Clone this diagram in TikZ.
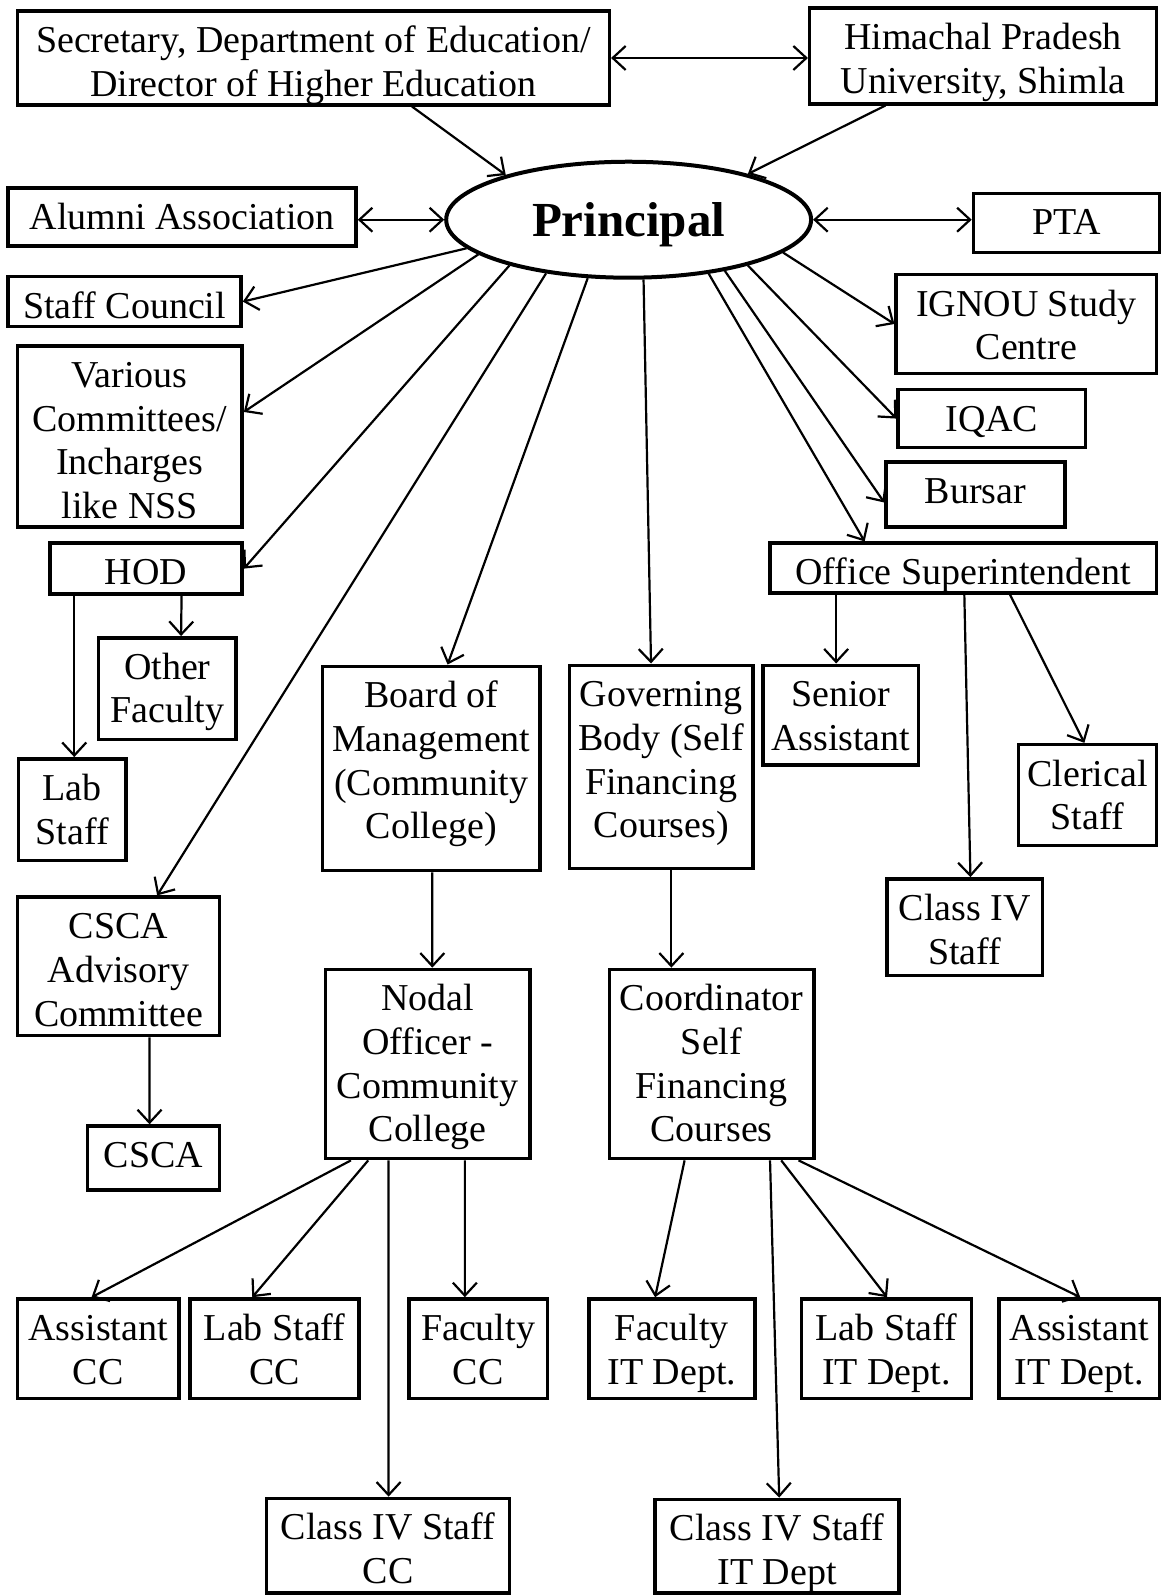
\documentclass[tikz,border=0pt]{standalone}
\usepackage{fontspec}
\setmainfont{Liberation Serif}
\usetikzlibrary{arrows.meta,shapes.geometric,calc}
\newcommand\firstline{\rule{0pt}{41.5pt}}
\newcommand\bx[6]{%
  \pgfmathsetlengthmacro\bxw{1.0175pt*(#4-#2)}%
  \pgfmathsetlengthmacro\bxh{1.0175pt*(#5-#3)}%
  \node[box, minimum width=\bxw, minimum height=\bxh] (#1) at ({(#2+#4)/2},{(#3+#5)/2})
    {\parbox[c][\bxh][t]{\bxw}{\centering\firstline#6}};}
\begin{document}
\begin{tikzpicture}[x=1.0175pt,y=-1.0175pt,
  box/.style={draw, line width=3.5pt, inner sep=0pt, font=\fontsize{38}{43.7}\selectfont},
  arr/.style={line width=2.2pt, -{Straight Barb[length=13pt,width=24pt]}},
  biarr/.style={line width=2.2pt, {Straight Barb[length=13pt,width=24pt]}-{Straight Barb[length=13pt,width=24pt]}}]
\useasboundingbox (0,0) rectangle (1141,1568);
\node[draw, ellipse, line width=4pt, inner sep=0pt, minimum width=365pt, minimum height=116pt, font=\fontsize{49}{53}\selectfont\bfseries] (p) at (618,216) {\raisebox{-4.8pt}[\height][\depth]{Principal}};
\bx{sec}{17}{11}{599}{103}{Secretary, Department of Education/\\Director of Higher Education}
\bx{hpu}{796}{8}{1137}{102}{Himachal Pradesh\\University, Shimla}
\bx{alu}{8}{185}{350}{242}{Alumni Association}
\bx{pta}{957}{190}{1140}{248}{PTA}
\bx{sc}{8}{272}{237}{321}{Staff Council}
\bx{vc}{17}{340}{238}{518}{Various\\Committees/\\Incharges\\like NSS}
\bx{hod}{49}{534}{238}{584}{HOD}
\bx{ofa}{97}{627}{232}{727}{Other\\Faculty}
\bx{lab}{18}{746}{124}{846}{Lab\\Staff}
\bx{csa}{17}{882}{216}{1018}{CSCA\\Advisory\\Committee}
\bx{csca}{86}{1107}{216}{1170}{CSCA}
\bx{bom}{317}{655}{531}{856}{Board of\\Management\\(Community\\College)}
\bx{nod}{320}{953}{521}{1139}{Nodal\\Officer -\\Community\\College}
\bx{gov}{560}{654}{740}{854}{Governing\\Body (Self\\Financing\\Courses)}
\bx{coo}{599}{953}{800}{1139}{Coordinator\\Self\\Financing\\Courses}
\bx{sen}{750}{654}{903}{752}{Senior\\Assistant}
\bx{os}{757}{534}{1137}{583}{Office Superintendent}
\bx{bur}{871}{454}{1047}{518}{Bursar}
\bx{iqac}{883}{383}{1067}{440}{IQAC}
\bx{ign}{881}{270}{1137}{367}{IGNOU Study\\Centre}
\bx{cle}{1001}{732}{1137}{831}{Clerical\\Staff}
\bx{cfour}{872}{864}{1025}{959}{Class IV\\Staff}
\bx{acc}{17}{1277}{176}{1375}{Assistant\\CC}
\bx{lcc}{187}{1277}{353}{1375}{Lab Staff\\CC}
\bx{fcc}{402}{1277}{538}{1375}{Faculty\\CC}
\bx{cfourcc}{262}{1473}{501}{1566}{Class IV Staff\\CC}
\bx{fitd}{579}{1277}{742}{1375}{Faculty\\IT Dept.}
\bx{lit}{788}{1277}{955}{1375}{Lab Staff\\IT Dept.}
\bx{ait}{982}{1277}{1140}{1375}{Assistant\\IT Dept.}
\bx{cfourit}{644}{1474}{884}{1566}{Class IV Staff\\IT Dept}
% top
\draw[biarr] (sec.east) -- (sec.east -| hpu.west);
\draw[arr] ($(sec.south)+(97,0)$) -- (p.160);
\draw[arr] ($(hpu.south)+(-96,0)$) -- (p.21);
\draw[biarr] (alu.east |- p.west) -- (p.west);
\draw[biarr] (p.east) -- (p.east -| pta.west);
% from principal
\draw[arr] (p.190) -- (sc.east);
\draw[arr] (p.193) -- ($(vc.east)+(0,-24)$);
\draw[arr] (p.201) -- (hod.east);
\draw[arr] (p.213) -- ($(csa.north)+(38,0)$);
\draw[arr] (p.235) -- ($(bom.north)+(16,0)$);
\draw[arr] (p.284) -- ($(gov.north)+(-10,0)$);
\draw[arr] (p.326) -- ($(os.north)+(-97,0)$);
\draw[arr] (p.332) -- ($(bur.west)+(0,8)$);
\draw[arr] (p.339) -- (iqac.west);
\draw[arr] (p.348) -- (ign.west);
% second level
\draw[arr] ($(hod.south)+(35,0)$) -- ($(ofa.north)+(13.5,0)$);
\draw[arr] ($(hod.south)+(-70.5,0)$) -- ($(lab.north)+(2,0)$);
\draw[arr] ($(csa.south)+(30.5,0)$) -- ($(csca.north)+(-4,0)$);
\draw[arr] ($(bom.south)+(1,0)$) -- ($(nod.north)+(4.5,0)$);
\draw[arr] ($(gov.south)+(10,0)$) -- ($(coo.north)+(-39.5,0)$);
\draw[arr] ($(os.south)+(-125,0)$) -- ($(sen.north)+(-4.5,0)$);
\draw[arr] ($(os.south)+(46,0)$) -- ($(cle.north)+(-3,0)$);
\draw[arr] ($(os.south)+(1,0)$) -- ($(cfour.north)+(5.5,0)$);
% nodal officer
\draw[arr] ($(nod.south)+(-75.5,0)$) -- ($(acc.north)+(-6.5,0)$);
\draw[arr] ($(nod.south)+(-58.5,0)$) -- ($(lcc.north)+(-22,0)$);
\draw[arr] ($(nod.south)+(-38.5,0)$) -- ($(cfourcc.north)+(0.5,0)$);
\draw[arr] ($(nod.south)+(36.5,0)$) -- ($(fcc.north)+(-13,0)$);
% coordinator
\draw[arr] ($(coo.south)+(-26.5,0)$) -- ($(fitd.north)+(-16.5,0)$);
\draw[arr] ($(coo.south)+(57.5,0)$) -- ($(cfourit.north)+(2,0)$);
\draw[arr] ($(coo.south)+(68.5,0)$) -- ($(lit.north)+(0.5,0)$);
\draw[arr] ($(coo.south)+(85.5,0)$) -- ($(ait.north)+(1,0)$);
\end{tikzpicture}
\end{document}
